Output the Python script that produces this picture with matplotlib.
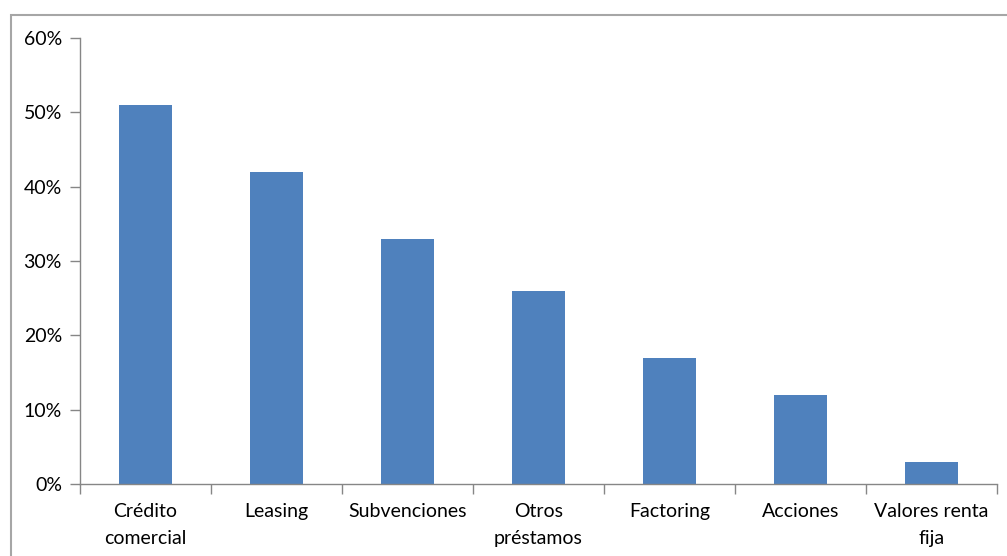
import matplotlib
matplotlib.use("Agg")
import matplotlib.pyplot as plt
from matplotlib.patches import Rectangle
from matplotlib.ticker import PercentFormatter, FixedLocator, NullFormatter
import numpy as np

categories = ["Crédito\ncomercial", "Leasing", "Subvenciones", "Otros\npréstamos",
              "Factoring", "Acciones", "Valores renta\nfija"]
values = [0.51, 0.42, 0.33, 0.26, 0.17, 0.12, 0.03]
y_ticks = [0.0, 0.1, 0.2, 0.3, 0.4, 0.5, 0.6]

W, H = 1007, 556
plt.rcParams["font.family"] = ["Lato", "DejaVu Sans"]

fig = plt.figure(figsize=(W / 100, H / 100), dpi=100)
fig.patch.set_facecolor("white")

# chart-area frame
fig.patches.append(Rectangle((11 / W, -0.01), 1.05, 1 - 15 / H + 0.01,
                             transform=fig.transFigure, fill=False,
                             edgecolor="#a6a6a6", linewidth=1.5))

left, right, top, bottom = 80, 997, 38, 484
ax = fig.add_axes([left / W, 1 - bottom / H, (right - left) / W, (bottom - top) / H])

x = np.arange(len(categories))
ax.bar(x, values, width=0.4, color="#4f81bd", zorder=2)

ax.set_xlim(-0.5, len(categories) - 0.5)
ax.set_ylim(0, 0.6)
ax.set_yticks(y_ticks)
ax.yaxis.set_major_formatter(PercentFormatter(1.0, decimals=0))

ax.xaxis.set_major_locator(FixedLocator(np.arange(-0.5, len(categories), 1.0)))
ax.xaxis.set_major_formatter(NullFormatter())
ax.xaxis.set_minor_locator(FixedLocator(x))
ax.set_xticklabels(categories, minor=True)

for side in ("top", "right"):
    ax.spines[side].set_visible(False)
for side in ("left", "bottom"):
    ax.spines[side].set_color("#868686")
    ax.spines[side].set_linewidth(1.0)

ax.tick_params(axis="y", which="major", length=7, color="#868686", width=1.0,
               labelsize=14, pad=6, labelcolor="black")
ax.tick_params(axis="x", which="major", length=7, color="#868686", width=1.0,
               direction="out")
ax.tick_params(axis="x", which="minor", length=0, labelsize=14, pad=14,
               labelcolor="black")
for lbl in ax.get_xticklabels(minor=True):
    lbl.set_linespacing(1.65)

fig.savefig("out.png", dpi=100)
